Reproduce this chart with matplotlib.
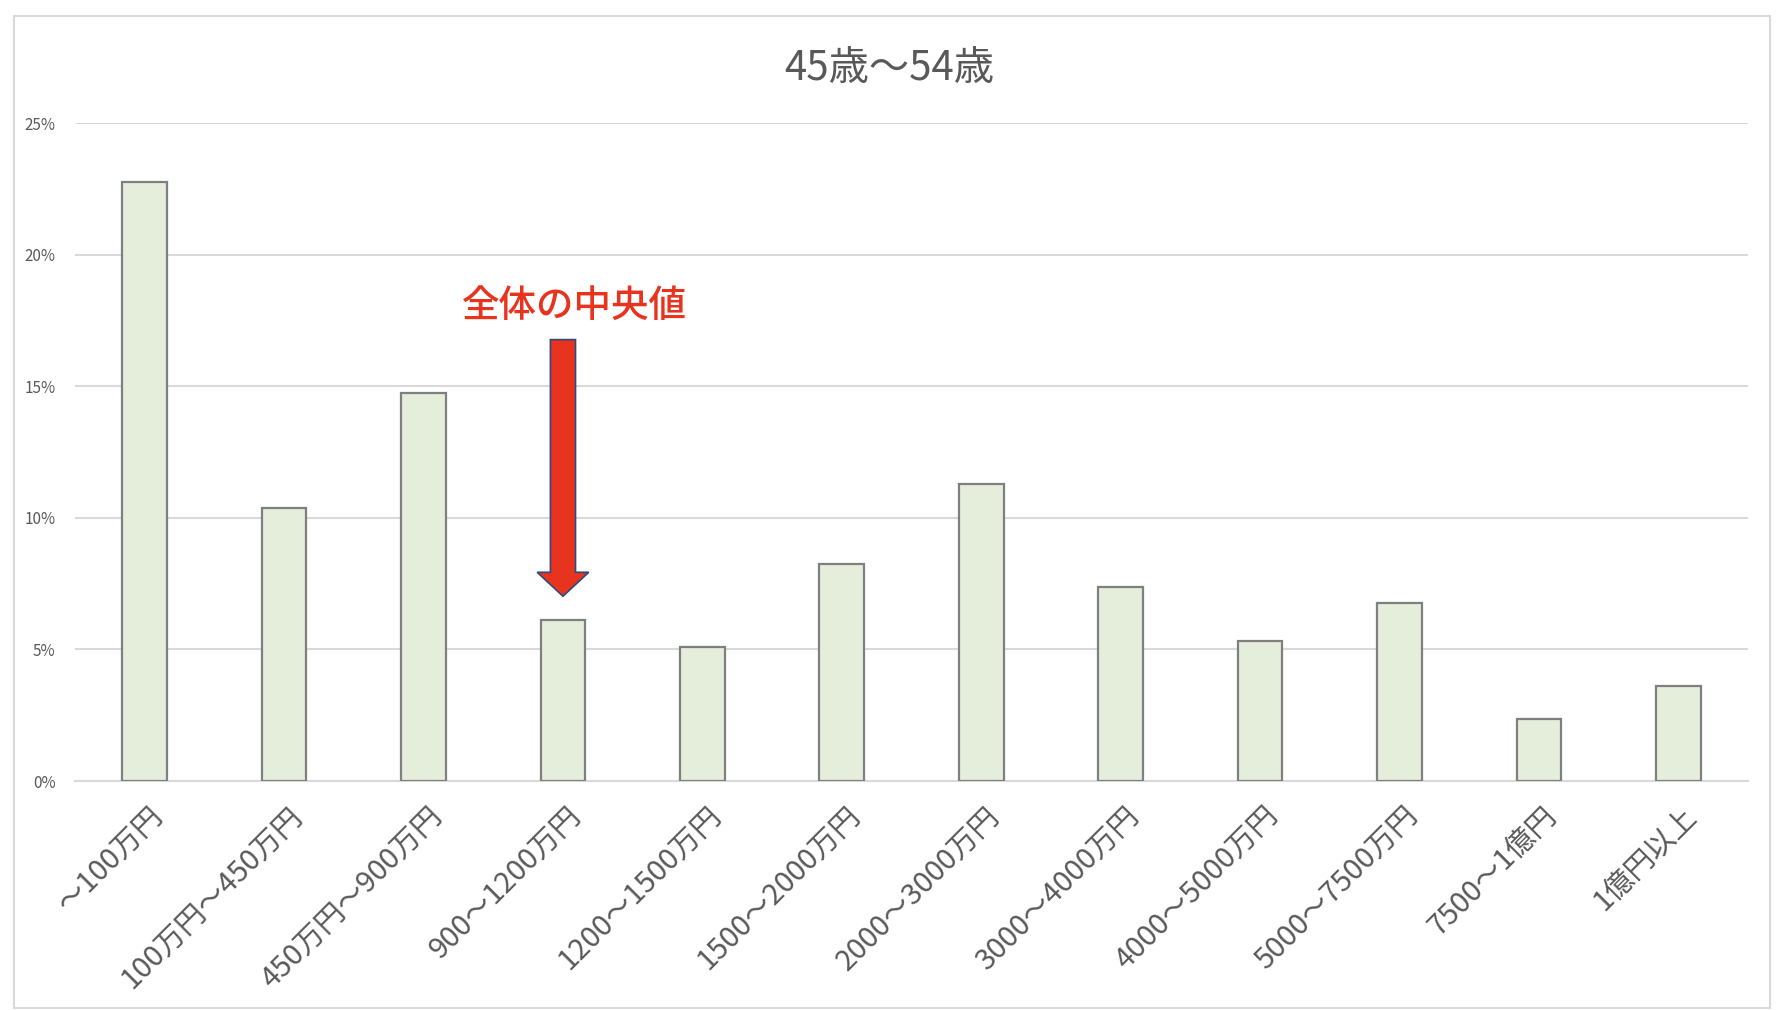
import matplotlib
matplotlib.use("Agg")
import matplotlib.pyplot as plt
import matplotlib.transforms as mtransforms
from matplotlib.patches import FancyArrow, Rectangle
from matplotlib.ticker import FuncFormatter

plt.rcParams['font.family'] = ['Noto Sans CJK JP', 'DejaVu Sans']

title = "45歳〜54歳"
categories = ["〜100万円", "100万円〜450万円", "450万円〜900万円", "900〜1200万円",
              "1200〜1500万円", "1500〜2000万円", "2000〜3000万円", "3000〜4000万円",
              "4000〜5000万円", "5000〜7500万円", "7500〜1億円", "1億円以上"]
values = [0.2275, 0.1036, 0.1473, 0.0611, 0.0511, 0.0823, 0.1127, 0.0737,
          0.0533, 0.0676, 0.0234, 0.0360]
yticks = [0, 0.05, 0.10, 0.15, 0.20, 0.25]
annot_text = "全体の中央値"
annot_index = 3
arrow_top = 0.1677
arrow_tip = 0.0702

W, H = 1788, 1010
fig = plt.figure(figsize=(W / 100, H / 100), dpi=100)
fig.patch.set_facecolor('white')
fig.patches.append(Rectangle((14 / W, 2 / H), (1770 - 14) / W, (1008 - 16) / H,
                             transform=fig.transFigure, fill=False,
                             edgecolor='#d9d9d9', linewidth=1.5))

ax = fig.add_axes([75 / W, 1 - 781 / H, (1748 - 75) / W, (781 - 123) / H])
x = list(range(len(categories)))
ax.bar(x, values, width=0.32, color='#e5eedb', edgecolor='#7f7f7f', linewidth=1.6, zorder=3)
ax.set_xlim(-0.5, len(categories) - 0.5)
ax.set_ylim(0, 0.25)
ax.set_yticks(yticks)
ax.yaxis.set_major_formatter(FuncFormatter(lambda v, p: f"{v*100:.0f}%"))
ax.grid(axis='y', color='#d9d9d9', linewidth=1.5, zorder=0)
ax.set_axisbelow(True)
for s in ['top', 'right', 'left']:
    ax.spines[s].set_visible(False)
ax.spines['bottom'].set_color('#d9d9d9')
ax.spines['bottom'].set_linewidth(1.5)
ax.tick_params(axis='both', length=0, colors='#595959')
ax.tick_params(axis='y', labelsize=11, pad=14)
ax.set_xticks(x)
ax.set_xticklabels(categories, rotation=45, ha='right', va='center',
                   rotation_mode='anchor', fontsize=21, color='#595959')
ax.tick_params(axis='x', pad=22)
offset = mtransforms.ScaledTranslation(14 / 100, 0, fig.dpi_scale_trans)
for lab in ax.get_xticklabels():
    lab.set_transform(lab.get_transform() + offset)

fig.text(0.4975, 0.932, title, ha='center', va='center', fontsize=29, color='#595959')

arr = FancyArrow(annot_index, arrow_top, 0, arrow_tip - arrow_top, width=0.18,
                 head_width=0.37, head_length=0.0091, length_includes_head=True,
                 facecolor='#e8341f', edgecolor='#2f4a7a', linewidth=1.2, zorder=5)
ax.add_patch(arr)
ax.text(annot_index + 0.08, 0.1807, annot_text, ha='center', va='center',
        fontsize=27, color='#e8341f', fontweight='medium', zorder=6)

fig.savefig('out.png', dpi=100)
